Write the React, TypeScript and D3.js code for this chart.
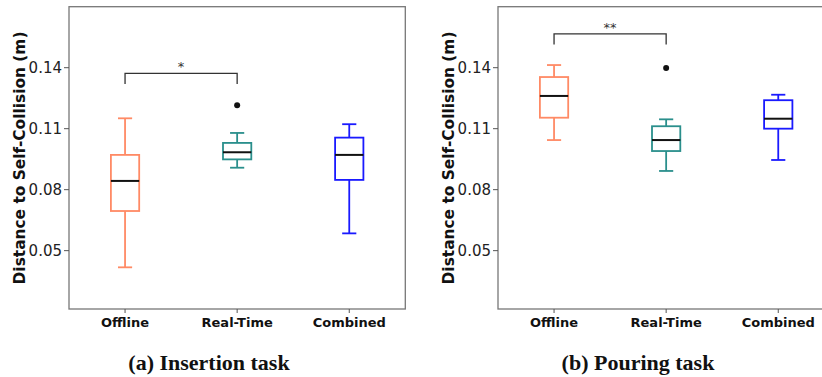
import { useEffect, useRef } from 'react';
import * as d3 from 'd3';

const categories = ['Offline', 'Real-Time', 'Combined'];
const colors = ['#ff8a65', '#2a8f8c', '#1a1aff'];
const yTicks = [0.05, 0.08, 0.11, 0.14];

// [whiskerLow, q1, median, q3, whiskerHigh]
const insertionStats = [
  [0.0418, 0.0695, 0.0843, 0.0971, 0.1151],
  [0.0908, 0.0949, 0.0984, 0.1030, 0.1079],
  [0.0585, 0.0848, 0.0971, 0.1056, 0.1122],
];
const insertionOutliers = [[], [0.1215], []];

const pouringStats = [
  [0.1044, 0.1154, 0.1261, 0.1354, 0.1413],
  [0.0892, 0.0990, 0.1044, 0.1112, 0.1146],
  [0.0946, 0.1100, 0.1149, 0.1240, 0.1267],
];
const pouringOutliers = [[], [0.1399], []];

const panels = [
  { stats: insertionStats, outliers: insertionOutliers, caption: '(a) Insertion task', sig: '*', sigVal: 0.1372, left: 69, capX: 209 },
  { stats: pouringStats, outliers: pouringOutliers, caption: '(b) Pouring task', sig: '**', sigVal: 0.1566, left: 498, capX: 638 },
];

const App = () => {
  const svgRef = useRef(null);

  useEffect(() => {
    const svg = d3.select(svgRef.current);
    svg.selectAll('*').remove();

    const top = 6.7, bottom = 309, pw = 336.3;

    const y = d3.scaleLinear().domain([0.0213, 0.170]).range([bottom, top]);

    panels.forEach((p) => {
      const g = svg.append('g');
      const x = d3.scaleBand().domain(categories).range([p.left, p.left + pw]);
      const cx = (c) => x(c) + x.bandwidth() / 2;
      const bw = 28.3;

      // frame
      g.append('rect')
        .attr('x', p.left).attr('y', top)
        .attr('width', pw).attr('height', bottom - top)
        .attr('fill', 'none').attr('stroke', '#777').attr('stroke-width', 1.3);

      // y ticks
      yTicks.forEach((t) => {
        g.append('line')
          .attr('x1', p.left - 5).attr('x2', p.left)
          .attr('y1', y(t)).attr('y2', y(t))
          .attr('stroke', '#555').attr('stroke-width', 1);
        g.append('text')
          .attr('x', p.left - 7).attr('y', y(t))
          .attr('dy', '0.35em').attr('text-anchor', 'end')
          .attr('font-family', 'DejaVu Sans').attr('font-size', 15)
          .attr('fill', '#222')
          .text(d3.format('.2f')(t));
      });

      // x ticks + labels
      categories.forEach((c) => {
        g.append('line')
          .attr('x1', cx(c)).attr('x2', cx(c))
          .attr('y1', bottom).attr('y2', bottom + 4)
          .attr('stroke', '#555');
        g.append('text')
          .attr('x', cx(c)).attr('y', 322)
          .attr('dy', '0.35em').attr('text-anchor', 'middle')
          .attr('font-family', 'DejaVu Sans').attr('font-weight', 'bold')
          .attr('font-size', 13).attr('fill', '#111')
          .text(c);
      });

      // y label
      g.append('text')
        .attr('transform', `translate(${p.left - 49},${158}) rotate(-90)`)
        .attr('dy', '0.35em').attr('text-anchor', 'middle')
        .attr('font-family', 'DejaVu Sans').attr('font-weight', 'bold')
        .attr('font-size', 15.4).attr('fill', '#111')
        .text('Distance to Self-Collision (m)');

      // boxes
      categories.forEach((c, i) => {
        const [lo, q1, med, q3, hi] = p.stats[i];
        const col = colors[i];
        const xc = cx(c);
        g.append('line').attr('x1', xc).attr('x2', xc).attr('y1', y(hi)).attr('y2', y(q3))
          .attr('stroke', col).attr('stroke-width', 1.8);
        g.append('line').attr('x1', xc).attr('x2', xc).attr('y1', y(q1)).attr('y2', y(lo))
          .attr('stroke', col).attr('stroke-width', 1.8);
        [lo, hi].forEach((v) => {
          g.append('line').attr('x1', xc - bw / 4).attr('x2', xc + bw / 4)
            .attr('y1', y(v)).attr('y2', y(v))
            .attr('stroke', col).attr('stroke-width', 1.8);
        });
        g.append('rect')
          .attr('x', xc - bw / 2).attr('y', y(q3))
          .attr('width', bw).attr('height', y(q1) - y(q3))
          .attr('fill', 'none').attr('stroke', col).attr('stroke-width', 1.8);
        g.append('line').attr('x1', xc - bw / 2).attr('x2', xc + bw / 2)
          .attr('y1', y(med)).attr('y2', y(med))
          .attr('stroke', '#111').attr('stroke-width', 2);
        p.outliers[i].forEach((v) => {
          g.append('circle').attr('cx', xc).attr('cy', y(v)).attr('r', 3).attr('fill', '#111');
        });
      });

      // significance bracket
      const x1 = cx(categories[0]), x2 = cx(categories[1]);
      const by = y(p.sigVal);
      g.append('path')
        .attr('d', `M${x1},${by + 10.5}V${by}H${x2}V${by + 10.5}`)
        .attr('fill', 'none').attr('stroke', '#333').attr('stroke-width', 1.3);
      g.append('text')
        .attr('x', (x1 + x2) / 2).attr('y', by - 2)
        .attr('text-anchor', 'middle')
        .attr('font-family', 'DejaVu Sans').attr('font-size', 13).attr('fill', '#333')
        .text(p.sig);

      // caption
      g.append('text')
        .attr('x', p.capX).attr('y', 370)
        .attr('text-anchor', 'middle')
        .attr('font-family', 'Liberation Serif').attr('font-weight', 'bold')
        .attr('font-size', 22).attr('fill', '#111')
        .text(p.caption);
    });
  }, []);

  return (
    <svg ref={svgRef} width={822} height={377}
      style={{ position: 'absolute', left: 0, top: 0, background: '#fff' }} />
  );
};

export default App;
